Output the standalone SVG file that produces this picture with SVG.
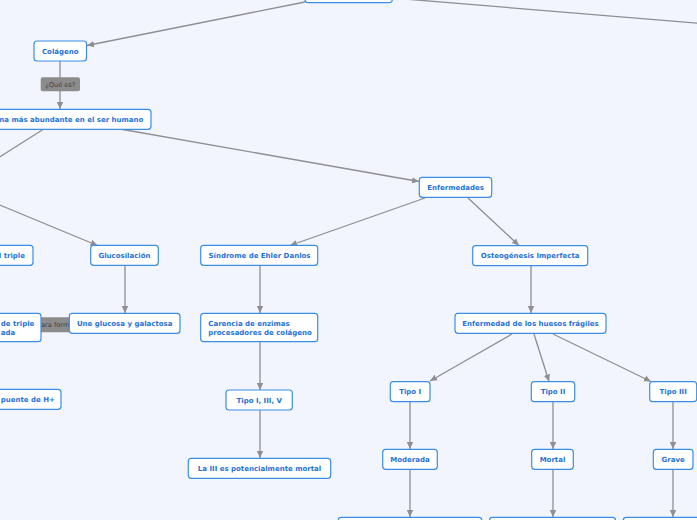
<svg xmlns="http://www.w3.org/2000/svg" width="697" height="520" viewBox="0 0 697 520">
<style>
.n{fill:#ffffff;stroke:#3a8ee8;stroke-width:1.2}
.t{font-family:"DejaVu Sans",Verdana,sans-serif;font-size:7px;font-weight:bold;fill:#1f72d6}
.m{text-anchor:middle}
.e{text-anchor:end}
.c{fill:none;stroke:#8e8e93;stroke-width:1.3}
.lb{fill:#8c8c8c}
.lt{font-family:"DejaVu Sans",Verdana,sans-serif;font-size:6.6px;fill:#3f3f3f;text-anchor:middle}
</style>
<defs>
<marker id="ah" markerUnits="userSpaceOnUse" markerWidth="8" markerHeight="8" viewBox="0 0 8 8" refX="7" refY="4" orient="auto">
<path d="M0,0.8 L7,4 L0,7.2 Z" fill="#8e8e93"/>
</marker>
</defs>
<rect width="697" height="520" fill="#f2f5fd"/>
<g id="connectors">
<path class="c" d="M305,2 L87,45.5" marker-end="url(#ah)"/>
<path class="c" d="M392,-2 L720,25"/>
<path class="c" d="M60,61 L60,109" marker-end="url(#ah)"/>
<path class="c" d="M43,129.5 L-5,160"/>
<path class="c" d="M-20,196.8 L97.5,245.5" marker-end="url(#ah)"/>
<path class="c" d="M120,129 L419,181.5" marker-end="url(#ah)"/>
<path class="c" d="M425,198 L290,245.5" marker-end="url(#ah)"/>
<path class="c" d="M468,198 L519,245.5" marker-end="url(#ah)"/>
<path class="c" d="M125,265.5 L125,313" marker-end="url(#ah)"/>
<path class="c" d="M260,265.5 L260,313" marker-end="url(#ah)"/>
<path class="c" d="M260,342 L260,390" marker-end="url(#ah)"/>
<path class="c" d="M260,410 L260,458" marker-end="url(#ah)"/>
<path class="c" d="M531,266 L531,313" marker-end="url(#ah)"/>
<path class="c" d="M512,334 L430,381" marker-end="url(#ah)"/>
<path class="c" d="M534,334 L549,381.5" marker-end="url(#ah)"/>
<path class="c" d="M553,334 L651,381.5" marker-end="url(#ah)"/>
<path class="c" d="M410,402 L410,449" marker-end="url(#ah)"/>
<path class="c" d="M553,402 L553,449" marker-end="url(#ah)"/>
<path class="c" d="M673,402 L673,449" marker-end="url(#ah)"/>
<path class="c" d="M410,469.5 L410,517" marker-end="url(#ah)"/>
<path class="c" d="M553,469.5 L553,517" marker-end="url(#ah)"/>
<path class="c" d="M673,469.5 L673,517" marker-end="url(#ah)"/>
<path class="c" d="M69,325 L41,325"/>
<g id="label-que-es">
<rect class="lb" x="40.7" y="77.3" width="39.3" height="14" rx="2"/>
<text class="lt" x="60.3" y="86.6">¿Qué es?</text>
</g>
<g id="label-para-formar">
<rect class="lb" x="30" y="317.3" width="45" height="15" rx="2"/>
<text class="lt" x="56.5" y="327.3">para formar</text>
</g>
</g>
<g id="n-top"><rect class="n" x="305" y="-20" width="87.3" height="22.7" rx="3"/></g>
<g id="n-colageno"><rect class="n" x="34" y="41" width="52.5" height="20" rx="3"/><text class="t m" x="60.3" y="53.5">Colágeno</text></g>
<g id="n-proteina"><rect class="n" x="-80" y="109.3" width="231" height="20" rx="3"/><text class="t e" x="143.3" y="121.8">na más abundante en el ser humano</text></g>
<g id="n-triple"><rect class="n" x="-80" y="245.3" width="113" height="20" rx="3"/><text class="t e" x="25" y="257.8">l triple</text></g>
<g id="n-glucosilacion"><rect class="n" x="90.7" y="245.3" width="67.6" height="20" rx="3"/><text class="t m" x="124.5" y="257.8">Glucosilación</text></g>
<g id="n-helice"><rect class="n" x="-100" y="313.3" width="141" height="28.4" rx="3"/><text class="t" x="0.8" y="326">de triple</text><text class="t" x="0.8" y="334.8">ada</text></g>
<g id="n-une"><rect class="n" x="69.3" y="313.3" width="110.7" height="20" rx="3"/><text class="t m" x="124.7" y="325.8">Une glucosa y galactosa</text></g>
<g id="n-puente"><rect class="n" x="-80" y="389.3" width="141" height="20" rx="3"/><text class="t" x="0.8" y="401.8">puente de H+</text></g>
<g id="n-enfermedades"><rect class="n" x="419.3" y="177.3" width="72.4" height="20" rx="3"/><text class="t m" x="455.5" y="189.8">Enfermedades</text></g>
<g id="n-sindrome"><rect class="n" x="200.7" y="245.3" width="117" height="20" rx="3"/><text class="t m" x="259.5" y="257.8">Síndrome de Ehler Danlos</text></g>
<g id="n-carencia"><rect class="n" x="200.7" y="313.3" width="117" height="28.4" rx="3"/><text class="t" x="208.3" y="326">Carencia de enzimas</text><text class="t" x="208.3" y="334.6">procesadores de colágeno</text></g>
<g id="n-tipo135"><rect class="n" x="226" y="390" width="66.3" height="20" rx="3"/><text class="t m" x="259.2" y="402.5">Tipo I, III, V</text></g>
<g id="n-la3"><rect class="n" x="188.3" y="458.3" width="142.4" height="20" rx="3"/><text class="t m" x="259.5" y="470.8">La III es potencialmente mortal</text></g>
<g id="n-osteo"><rect class="n" x="472.7" y="245.7" width="115" height="20" rx="3"/><text class="t m" x="530.2" y="258.2">Osteogénesis Imperfecta</text></g>
<g id="n-huesos"><rect class="n" x="455" y="313.3" width="151" height="20" rx="3"/><text class="t m" x="530.5" y="325.8">Enfermedad de los huesos frágiles</text></g>
<g id="n-tipo1"><rect class="n" x="390.3" y="381.7" width="39.7" height="20" rx="3"/><text class="t m" x="410.2" y="394.2">Tipo I</text></g>
<g id="n-tipo2"><rect class="n" x="531.3" y="381.7" width="43.4" height="20" rx="3"/><text class="t m" x="553" y="394.2">Tipo II</text></g>
<g id="n-tipo3"><rect class="n" x="649.7" y="381.7" width="47" height="20" rx="3"/><text class="t m" x="673.2" y="394.2">Tipo III</text></g>
<g id="n-moderada"><rect class="n" x="382.7" y="449.3" width="54.6" height="20" rx="3"/><text class="t m" x="410" y="461.8">Moderada</text></g>
<g id="n-mortal"><rect class="n" x="531.7" y="449.3" width="41.6" height="20" rx="3"/><text class="t m" x="552.5" y="461.8">Mortal</text></g>
<g id="n-grave"><rect class="n" x="653.3" y="449.3" width="39.7" height="20" rx="3"/><text class="t m" x="673.2" y="461.8">Grave</text></g>
<g id="n-bottom1"><rect class="n" x="338.3" y="517.3" width="143.4" height="22" rx="3"/></g>
<g id="n-bottom2"><rect class="n" x="489.5" y="517.3" width="126" height="22" rx="3"/></g>
<g id="n-bottom3"><rect class="n" x="623.3" y="517.3" width="100" height="22" rx="3"/></g>
</svg>
